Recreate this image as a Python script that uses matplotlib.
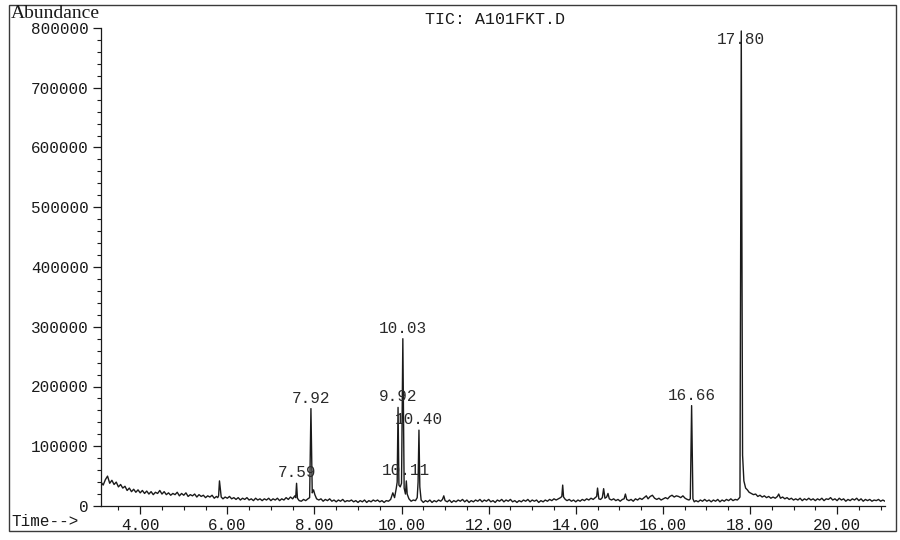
import matplotlib
matplotlib.use("Agg")
import matplotlib.pyplot as plt
from matplotlib.patches import Rectangle
from matplotlib.ticker import MultipleLocator, FixedLocator

# Total ion chromatogram trace: retention time (min) and abundance (counts).
# Each row of rt pairs with the same row of abundance.
rt = [
    3.10, 3.15, 3.20, 3.25, 3.30, 3.35, 3.40, 3.45, 3.50, 3.55,
    3.60, 3.65, 3.70, 3.75, 3.80, 3.85, 3.90, 3.95, 4.00, 4.05,
    4.10, 4.15, 4.20, 4.25, 4.30, 4.35, 4.40, 4.45, 4.50, 4.55,
    4.60, 4.65, 4.70, 4.75, 4.80, 4.85, 4.90, 4.95, 5.00, 5.05,
    5.10, 5.15, 5.20, 5.25, 5.30, 5.35, 5.40, 5.45, 5.50, 5.55,
    5.60, 5.65, 5.70, 5.75, 5.78, 5.80, 5.82, 5.86, 5.90, 5.95,
    6.00, 6.05, 6.10, 6.15, 6.20, 6.25, 6.30, 6.35, 6.40, 6.45,
    6.50, 6.55, 6.60, 6.65, 6.70, 6.75, 6.80, 6.85, 6.90, 6.95,
    7.00, 7.05, 7.10, 7.15, 7.20, 7.25, 7.30, 7.35, 7.40, 7.45,
    7.50, 7.55, 7.57, 7.59, 7.61, 7.65, 7.70, 7.75, 7.80, 7.85,
    7.89, 7.92, 7.95, 7.98, 8.01, 8.05, 8.10, 8.15, 8.20, 8.25,
    8.30, 8.35, 8.40, 8.45, 8.50, 8.55, 8.60, 8.65, 8.70, 8.75,
    8.80, 8.85, 8.90, 8.95, 9.00, 9.05, 9.10, 9.15, 9.20, 9.25,
    9.30, 9.35, 9.40, 9.45, 9.50, 9.55, 9.60, 9.65, 9.70, 9.75,
    9.80, 9.84, 9.88, 9.90, 9.92, 9.94, 9.97, 10.00, 10.03, 10.06,
    10.09, 10.11, 10.13, 10.17, 10.22, 10.27, 10.32, 10.36, 10.38, 10.40,
    10.42, 10.45, 10.50, 10.55, 10.60, 10.65, 10.70, 10.75, 10.80, 10.85,
    10.90, 10.94, 10.97, 11.00, 11.05, 11.10, 11.15, 11.20, 11.25, 11.30,
    11.35, 11.40, 11.45, 11.50, 11.55, 11.60, 11.65, 11.70, 11.75, 11.80,
    11.85, 11.90, 11.95, 12.00, 12.05, 12.10, 12.15, 12.20, 12.25, 12.30,
    12.35, 12.40, 12.45, 12.50, 12.55, 12.60, 12.65, 12.70, 12.75, 12.80,
    12.85, 12.90, 12.95, 13.00, 13.05, 13.10, 13.15, 13.20, 13.25, 13.30,
    13.35, 13.40, 13.45, 13.50, 13.55, 13.60, 13.65, 13.68, 13.70, 13.72,
    13.76, 13.80, 13.85, 13.90, 13.95, 14.00, 14.05, 14.10, 14.15, 14.20,
    14.25, 14.30, 14.35, 14.40, 14.45, 14.48, 14.50, 14.53, 14.57, 14.61,
    14.64, 14.67, 14.71, 14.74, 14.77, 14.82, 14.87, 14.92, 14.97, 15.02,
    15.07, 15.11, 15.14, 15.17, 15.22, 15.27, 15.32, 15.37, 15.42, 15.47,
    15.52, 15.57, 15.62, 15.66, 15.71, 15.76, 15.81, 15.86, 15.91, 15.96,
    16.01, 16.06, 16.11, 16.16, 16.21, 16.26, 16.31, 16.36, 16.41, 16.46,
    16.51, 16.56, 16.60, 16.63, 16.66, 16.69, 16.72, 16.76, 16.81, 16.86,
    16.91, 16.96, 17.01, 17.06, 17.11, 17.16, 17.21, 17.26, 17.31, 17.36,
    17.41, 17.46, 17.51, 17.56, 17.61, 17.66, 17.71, 17.75, 17.77, 17.80,
    17.83, 17.86, 17.90, 17.94, 17.98, 18.03, 18.08, 18.13, 18.18, 18.23,
    18.28, 18.33, 18.38, 18.43, 18.48, 18.53, 18.58, 18.63, 18.66, 18.70,
    18.75, 18.80, 18.85, 18.90, 18.95, 19.00, 19.05, 19.10, 19.15, 19.20,
    19.25, 19.30, 19.35, 19.40, 19.45, 19.50, 19.55, 19.60, 19.65, 19.70,
    19.75, 19.80, 19.85, 19.90, 19.95, 20.00, 20.05, 20.10, 20.15, 20.20,
    20.25, 20.30, 20.35, 20.40, 20.45, 20.50, 20.55, 20.60, 20.65, 20.70,
    20.75, 20.80, 20.85, 20.90, 20.95, 21.00, 21.05, 21.10,
]
abundance = [
    40000, 35000, 44000, 50000, 38000, 43000, 36000, 40000, 32000, 36000,
    30000, 33000, 26000, 30000, 24000, 28000, 23000, 27000, 22000, 26000,
    21000, 25000, 20000, 24000, 19000, 23000, 21000, 26000, 20000, 24000,
    19000, 22000, 18000, 21000, 19000, 23000, 17000, 21000, 18000, 22000,
    16000, 19000, 17000, 20000, 15000, 19000, 16000, 18000, 14000, 17000,
    15000, 18000, 13000, 16000, 14000, 17000, 42000, 15000, 12000, 15000,
    13000, 16000, 12000, 14000, 11000, 14000, 10000, 13000, 11000, 14000,
    10000, 12000, 9000, 13000, 10000, 12000, 9000, 12000, 10000, 13000,
    9000, 12000, 10000, 13000, 9000, 12000, 10000, 14000, 11000, 15000,
    12000, 17000, 14000, 38000, 13000, 9000, 8000, 11000, 9000, 12000,
    14000, 163000, 22000, 27000, 19000, 12000, 10000, 12000, 8000, 11000,
    9000, 12000, 8000, 10000, 7000, 10000, 8000, 11000, 7000, 9000,
    8000, 10000, 7000, 9000, 6000, 9000, 7000, 10000, 6000, 9000,
    7000, 10000, 8000, 10000, 7000, 9000, 6000, 9000, 8000, 11000,
    22000, 14000, 30000, 40000, 165000, 35000, 32000, 38000, 280000, 30000,
    20000, 42000, 20000, 12000, 8000, 10000, 9000, 14000, 40000, 127000,
    32000, 10000, 6000, 9000, 7000, 10000, 6000, 9000, 7000, 10000,
    8000, 11000, 17000, 9000, 7000, 10000, 6000, 9000, 7000, 10000,
    8000, 11000, 7000, 10000, 6000, 9000, 7000, 10000, 8000, 11000,
    7000, 10000, 8000, 11000, 7000, 9000, 6000, 10000, 8000, 11000,
    7000, 10000, 8000, 11000, 7000, 9000, 6000, 9000, 7000, 10000,
    8000, 11000, 7000, 10000, 8000, 10000, 6000, 9000, 7000, 10000,
    8000, 11000, 9000, 12000, 10000, 12000, 14000, 16000, 35000, 15000,
    11000, 9000, 11000, 8000, 10000, 7000, 10000, 8000, 11000, 9000,
    12000, 10000, 13000, 11000, 14000, 16000, 30000, 12000, 11000, 14000,
    29000, 13000, 15000, 21000, 12000, 10000, 12000, 9000, 11000, 8000,
    11000, 12000, 20000, 11000, 9000, 11000, 8000, 12000, 10000, 13000,
    11000, 14000, 17000, 12000, 16000, 18000, 13000, 11000, 13000, 10000,
    12000, 14000, 12000, 16000, 18000, 15000, 17000, 16000, 14000, 17000,
    13000, 11000, 10000, 12000, 168000, 12000, 7000, 9000, 7000, 10000,
    8000, 11000, 8000, 10000, 7000, 10000, 8000, 11000, 7000, 10000,
    8000, 11000, 9000, 12000, 9000, 11000, 10000, 13000, 15000, 795000,
    85000, 42000, 30000, 27000, 23000, 21000, 19000, 20000, 16000, 18000,
    15000, 17000, 14000, 16000, 13000, 15000, 13000, 16000, 20000, 13000,
    15000, 12000, 14000, 11000, 13000, 10000, 12000, 10000, 13000, 9000,
    12000, 10000, 13000, 10000, 12000, 9000, 12000, 10000, 13000, 9000,
    12000, 11000, 14000, 10000, 12000, 9000, 13000, 10000, 12000, 8000,
    11000, 9000, 12000, 10000, 13000, 9000, 12000, 8000, 11000, 9000,
    11000, 8000, 10000, 9000, 11000, 8000, 10000, 8000,
]

# Integrated peaks labelled with their retention times
peak_rt = [7.59, 7.92, 9.92, 10.03, 10.11, 10.40, 16.66, 17.80]
peak_height = [38000, 163000, 165000, 280000, 42000, 127000, 168000, 795000]
peak_labels = ["7.59", "7.92", "9.92", "10.03", "10.11", "10.40", "16.66", "17.80"]

x_major = [4.0, 6.0, 8.0, 10.0, 12.0, 14.0, 16.0, 18.0, 20.0]
x_tick_labels = ["4.00", "6.00", "8.00", "10.00", "12.00", "14.00", "16.00", "18.00", "20.00"]
y_major = [0, 100000, 200000, 300000, 400000, 500000, 600000, 700000, 800000]
y_tick_labels = ["0", "100000", "200000", "300000", "400000", "500000", "600000", "700000", "800000"]

title_text = "TIC: A101FKT.D"

mono = ["Liberation Mono", "DejaVu Sans Mono"]
ink = "#1a1a1a"

W, H = 900, 540
fig = plt.figure(figsize=(W / 100, H / 100), dpi=100)
fig.patch.set_facecolor("white")

# Printed frame around the whole report
fig.patches.append(Rectangle((9 / W, 1 - 531 / H), 887 / W, 526 / H,
                             transform=fig.transFigure, fill=False,
                             edgecolor="#3a3a3a", linewidth=1.0))

ax = fig.add_axes([101 / W, 1 - 506 / H, (885 - 101) / W, (506 - 28) / H])
ax.set_facecolor("white")
ax.plot(rt, abundance, color=ink, linewidth=1.0, clip_on=True)

ax.set_xlim(3.1, 21.1)
ax.set_ylim(0, 800000)

for side in ("top", "right"):
    ax.spines[side].set_visible(False)
for side in ("left", "bottom"):
    ax.spines[side].set_color(ink)
    ax.spines[side].set_linewidth(0.9)

ax.xaxis.set_major_locator(FixedLocator(x_major))
ax.set_xticklabels(x_tick_labels)
ax.xaxis.set_minor_locator(MultipleLocator(0.5))
ax.yaxis.set_major_locator(FixedLocator(y_major))
ax.set_yticklabels(y_tick_labels)
ax.yaxis.set_minor_locator(MultipleLocator(20000))

ax.tick_params(axis="both", which="major", direction="out", length=6, width=0.9,
               color=ink, labelcolor=ink, labelsize=11.5)
ax.tick_params(axis="both", which="minor", direction="out", length=3, width=0.8, color=ink)
ax.tick_params(axis="x", which="major", pad=3)
ax.tick_params(axis="y", which="major", pad=3)
for lab in ax.get_xticklabels() + ax.get_yticklabels():
    lab.set_family(mono)

# Peak retention-time labels above each apex
for t, h, s in zip(peak_rt, peak_height, peak_labels):
    if h > 0.95 * ax.get_ylim()[1]:
        ax.text(t, 0.975, s, transform=ax.get_xaxis_transform(), ha="center", va="center",
                family=mono, fontsize=11.5, color="#2a2a2a")
    else:
        ax.annotate(s, xy=(t, h), xytext=(0, 7.5), textcoords="offset points",
                    ha="center", va="center", family=mono, fontsize=11.5, color="#2a2a2a")

fig.text(495 / W, 1 - 19 / H, title_text, ha="center", va="center",
         family=mono, fontsize=12, color=ink)
fig.text(11 / W, 1 - 14 / H, "Abundance", ha="left", va="center",
         family=["Liberation Serif", "DejaVu Serif"], fontsize=14, color=ink)
fig.text(11 / W, 1 - 522 / H, "Time-->", ha="left", va="center",
         family=mono, fontsize=11.5, color=ink)

fig.savefig("out.png", dpi=100, facecolor="white")
